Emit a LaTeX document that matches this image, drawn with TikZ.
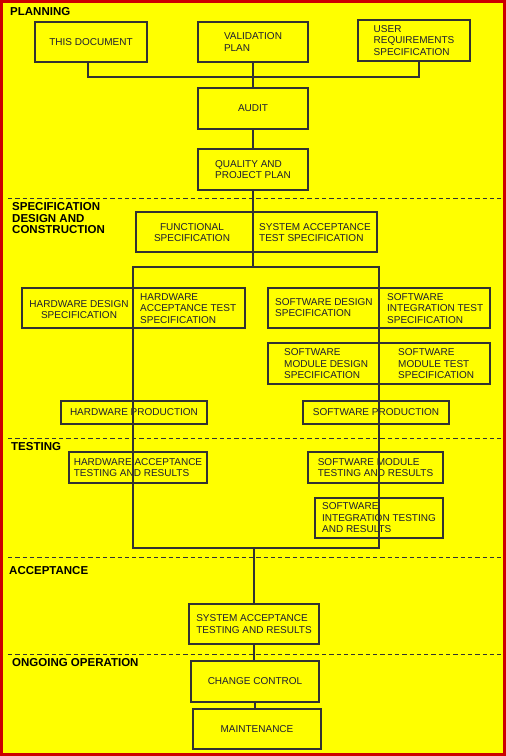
\documentclass[tikz,border=0pt]{standalone}
\usepackage{fontspec}
\setmainfont{Liberation Sans}
\definecolor{bgyellow}{RGB}{255,255,0}
\definecolor{framered}{RGB}{204,0,0}
\definecolor{ink}{RGB}{30,30,50}
\definecolor{linec}{RGB}{50,50,50}
\begin{document}
\begin{tikzpicture}[x=1pt,y=-1pt,
  box/.style={draw=linec, line width=1.2pt, inner sep=0pt, text=ink, font=\fontsize{10}{11.5}\selectfont, align=left},
  txt/.style={inner sep=0pt, text=ink, font=\fontsize{10}{11.5}\selectfont, align=left},
  lbl/.style={inner sep=0pt, anchor=west, font=\bfseries\fontsize{11.5}{11.5}\selectfont, text=black, align=left},
  conn/.style={draw=linec, line width=1.2pt},
  sepline/.style={draw=linec, line width=0.9pt, dash pattern=on 4.3pt off 3pt}]
\useasboundingbox (0,0) rectangle (506,756);
\fill[framered] (0,0) rectangle (506,756);
\fill[bgyellow] (3,3) rectangle (503,753);

% separators
\draw[sepline] (8,198) -- (501,198);
\draw[sepline] (8,438) -- (501,438);
\draw[sepline] (8,557) -- (501,557);
\draw[sepline] (8,654) -- (501,654);

% section labels
\node[lbl] (lplan) at (10,12) {PLANNING};
\node[lbl] (lspec) at (12,218.5) {SPECIFICATION\\DESIGN AND\\CONSTRUCTION};
\node[lbl] (ltest) at (11,447) {TESTING};
\node[lbl] (lacc) at (9,571) {ACCEPTANCE};
\node[lbl] (lops) at (12,663) {ONGOING OPERATION};

% planning
\node[box, minimum width=112pt, minimum height=40pt] (doc) at (91,42) {THIS DOCUMENT};
\node[box, minimum width=110pt, minimum height=40pt] (vp) at (253,42) {VALIDATION\\PLAN};
\node[box, minimum width=112pt, minimum height=41pt] (urs) at (414,40.5) {USER\\REQUIREMENTS\\SPECIFICATION};
\node[box, minimum width=110pt, minimum height=41pt] (audit) at (253,108.5) {AUDIT};
\node[box, minimum width=110pt, minimum height=41pt] (qpp) at (253,169.5) {QUALITY AND\\PROJECT PLAN};

% specification
\node[box, minimum width=241pt, minimum height=40pt] (fs) at (256.5,232) {};
\node[txt, align=center] (tfs) at (192,232.5) {FUNCTIONAL\\SPECIFICATION};
\node[txt, anchor=west] (tsats) at (259,232.5) {SYSTEM ACCEPTANCE\\TEST SPECIFICATION};

\node[box, minimum width=223pt, minimum height=40pt] (hwd) at (133.5,308) {};
\node[txt, align=center] (thds) at (79,309.5) {HARDWARE DESIGN\\SPECIFICATION};
\node[txt, anchor=west] (thats) at (140,308.5) {HARDWARE\\ACCEPTANCE TEST\\SPECIFICATION};

\node[box, minimum width=222pt, minimum height=40pt] (swd) at (379,308) {};
\node[txt, anchor=west] (tsds) at (275,307.5) {SOFTWARE DESIGN\\SPECIFICATION};
\node[txt, anchor=west] (tsits) at (387,308.5) {SOFTWARE\\INTEGRATION TEST\\SPECIFICATION};

\node[box, minimum width=222pt, minimum height=41pt] (swm) at (379,363.5) {};
\node[txt, anchor=west] (tsmds) at (284,364) {SOFTWARE\\MODULE DESIGN\\SPECIFICATION};
\node[txt, anchor=west] (tsmts) at (398,364) {SOFTWARE\\MODULE TEST\\SPECIFICATION};

\node[box, minimum width=146pt, minimum height=23pt] (hwprod) at (134,412.5) {HARDWARE PRODUCTION};
\node[box, minimum width=146pt, minimum height=23pt] (swprod) at (376,412.5) {SOFTWARE PRODUCTION};

% testing
\node[box, minimum width=138pt, minimum height=31pt] (hwat) at (138,467.5) {HARDWARE ACCEPTANCE\\TESTING AND RESULTS};
\node[box, minimum width=135pt, minimum height=31pt] (swmt) at (375.5,467.5) {SOFTWARE MODULE\\TESTING AND RESULTS};
\node[box, minimum width=128pt, minimum height=40pt] (swit) at (379,518) {SOFTWARE\\INTEGRATION TESTING\\AND RESULTS};

% acceptance / operation
\node[box, minimum width=130pt, minimum height=40pt] (sat) at (254,624) {SYSTEM ACCEPTANCE\\TESTING AND RESULTS};
\node[box, minimum width=128pt, minimum height=41pt] (cc) at (255,681.5) {CHANGE CONTROL};
\node[box, minimum width=128pt, minimum height=40pt] (mnt) at (257,729) {MAINTENANCE};

% connectors
\coordinate (j1) at (253,77);
\draw[conn] ([xshift=-3pt]doc.south) |- (j1) -| ([xshift=5pt]urs.south);
\draw[conn] (vp.south) -- (audit.north);
\draw[conn] (audit.south) -- (qpp.north);
\coordinate (jt) at (253,267);
\coordinate (jl) at (133,267);
\coordinate (jr) at (379,267);
\coordinate (bl) at (133,548);
\coordinate (br) at (379,548);
\coordinate (bc) at (254,548);
\draw[conn] (qpp.south) -- (jt);
\draw[conn] (jl) -- (jr) -- (br) -- (bl) -- cycle;
\draw[conn] (bc) -- (bc |- sat.north);
\draw[conn] (sat.south) -- (sat.south |- cc.north);
\draw[conn] (cc.south) -- (cc.south |- mnt.north);
\end{tikzpicture}
\end{document}
